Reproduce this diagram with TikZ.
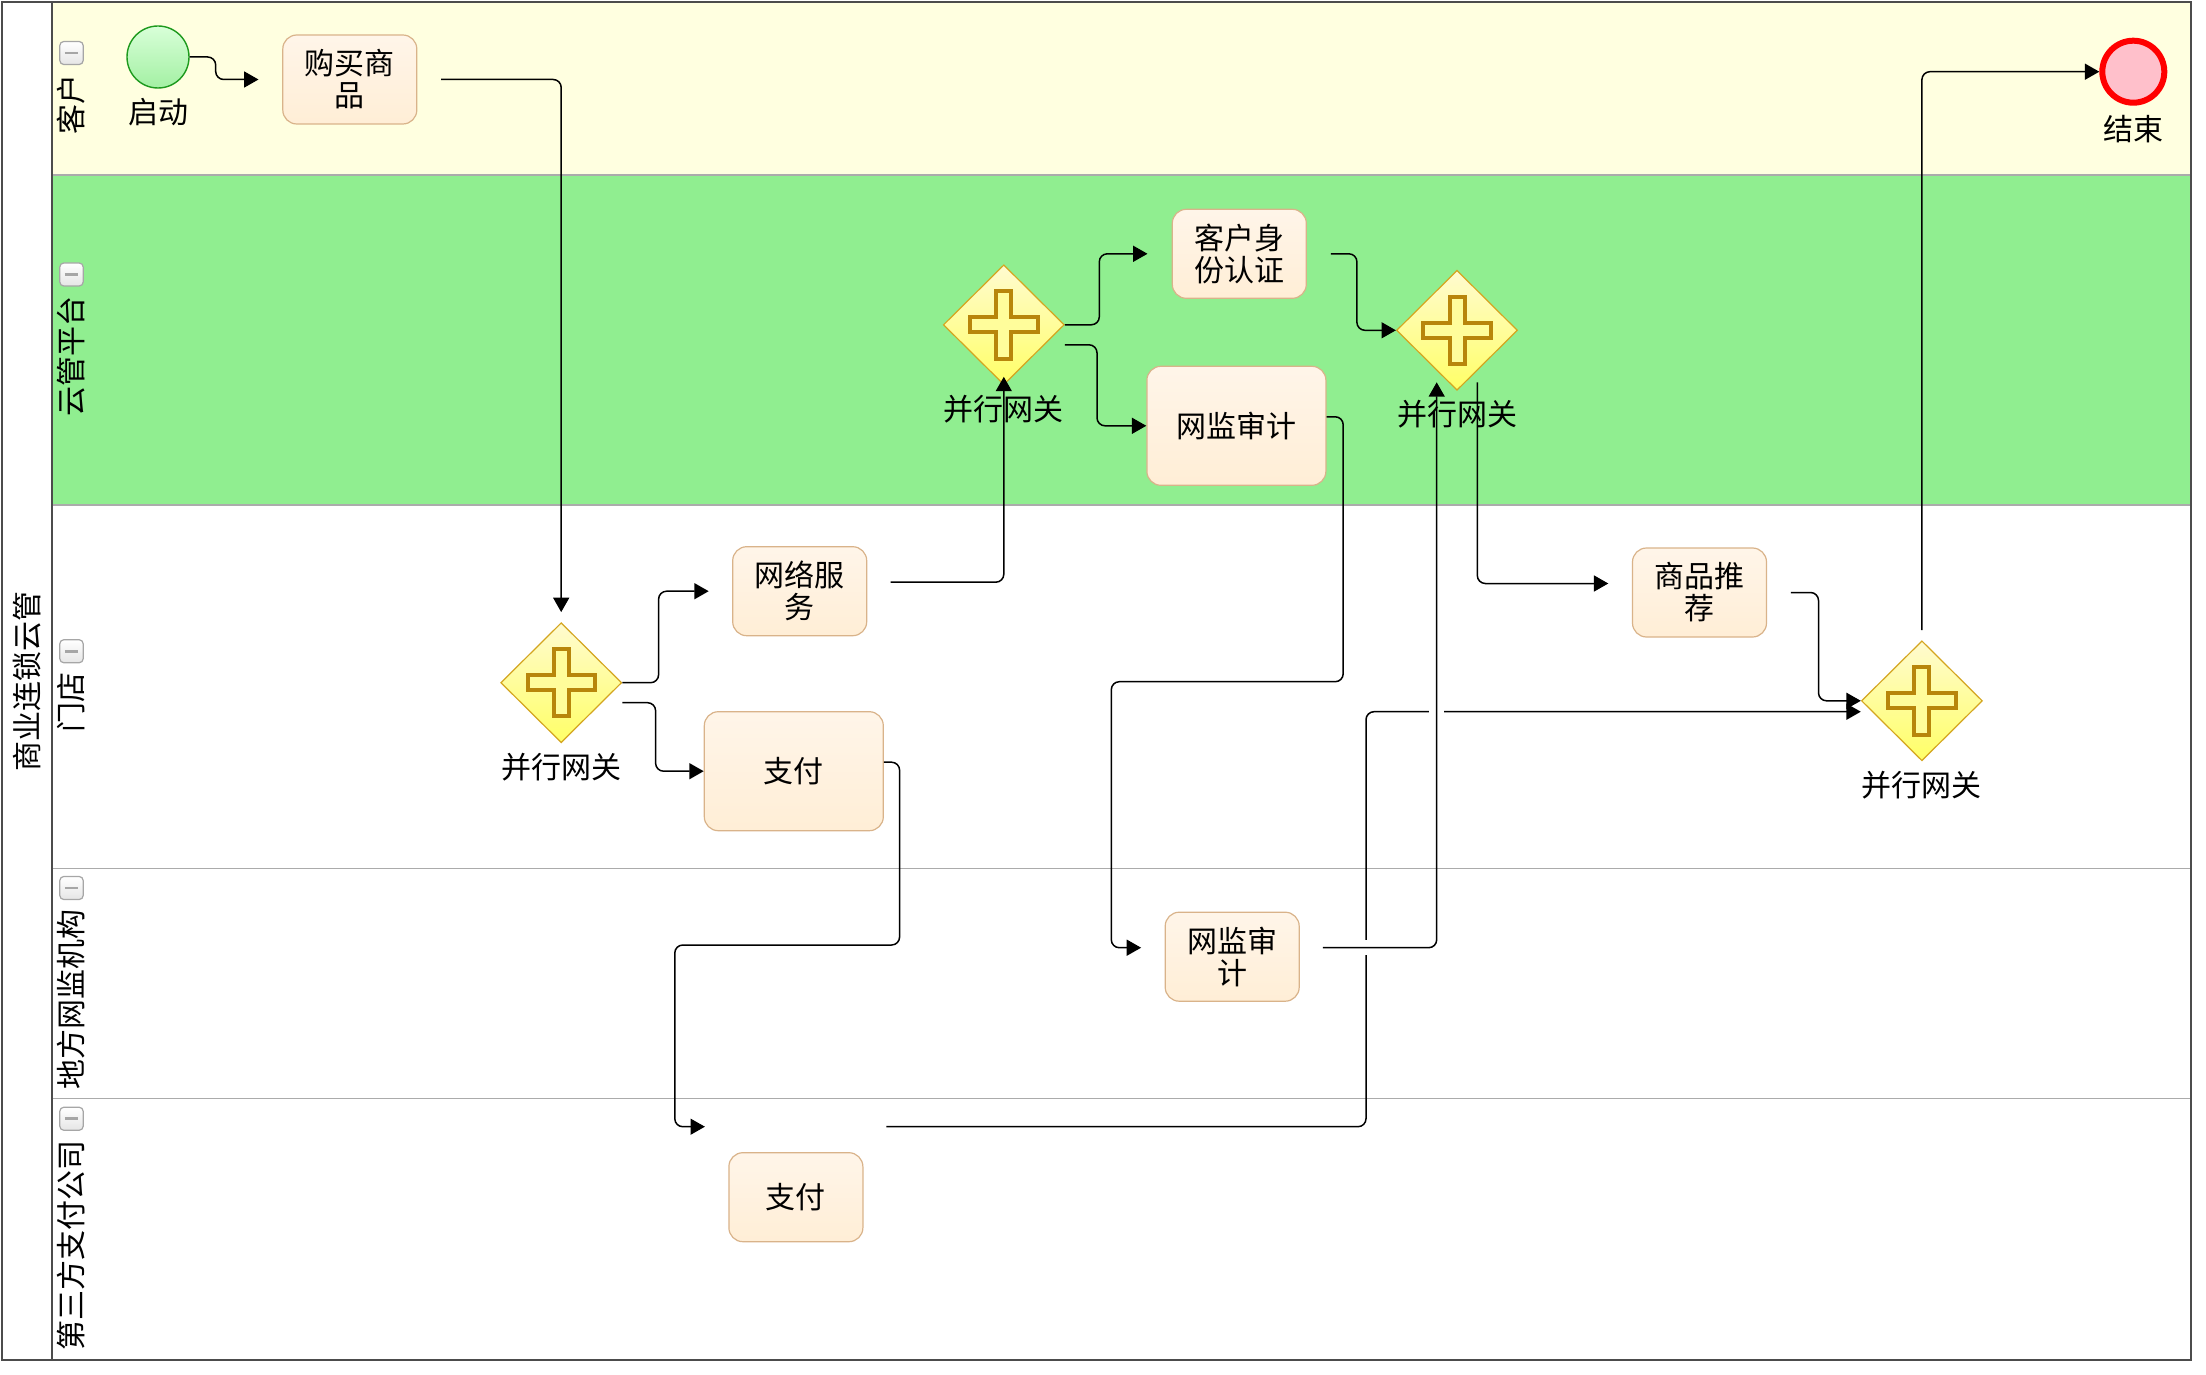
\documentclass[tikz,border=0pt]{standalone}
\usepackage{fontspec}
\setmainfont{Noto Sans CJK SC}
\usetikzlibrary{arrows.meta}
\usetikzlibrary{positioning}
\usetikzlibrary{calc}
\usetikzlibrary{shapes.geometric}

\definecolor{laneyellow}{HTML}{FFFFE0}
\definecolor{lanegreen}{HTML}{90EE90}
\definecolor{lanegray}{HTML}{ABABAB}
\definecolor{taskline}{HTML}{D9B38A}
\definecolor{tasktop}{HTML}{FFF5E9}
\definecolor{taskbot}{HTML}{FFEED6}
\definecolor{gwline}{HTML}{D4A520}
\definecolor{gwtop}{HTML}{FFFBD0}
\definecolor{gwbot}{HTML}{FFFF66}
\definecolor{plusline}{HTML}{B8860B}
\definecolor{starttop}{HTML}{D8FFD8}
\definecolor{startbot}{HTML}{A3F0A3}
\definecolor{startline}{HTML}{1E9A1E}
\definecolor{endfill}{HTML}{FFC0CB}

\begin{document}
\begin{tikzpicture}[x=0.5pt,y=-0.5pt,>={Triangle[length=7.2pt,width=8pt]},
  font=\fontsize{15pt}{16pt}\selectfont,
  flow/.style={->,draw=black,line width=0.75pt,rounded corners=4pt},
  task/.style={rectangle,rounded corners=7pt,draw=taskline,line width=0.6pt,
    top color=tasktop,bottom color=taskbot,align=center,inner sep=2pt,
    minimum width=67pt,minimum height=44.5pt},
  big task/.style={task,minimum width=89.5pt,minimum height=59.5pt},
  gateway/.style={diamond,draw=gwline,line width=0.6pt,top color=gwtop,bottom color=gwbot,
    minimum width=60.5pt,minimum height=60pt,inner sep=0pt,
    label={[label distance=4.5pt,inner sep=0pt]below:并行网关},
    path picture={\draw[plusline,line width=2pt,fill=gwtop!50!gwbot,
      shift={(path picture bounding box.center)}]
      (-3.75pt,16.85pt) -- (3.75pt,16.85pt) -- (3.75pt,3.75pt) -- (16.85pt,3.75pt)
      -- (16.85pt,-3.75pt) -- (3.75pt,-3.75pt) -- (3.75pt,-16.85pt) -- (-3.75pt,-16.85pt)
      -- (-3.75pt,-3.75pt) -- (-16.85pt,-3.75pt) -- (-16.85pt,3.75pt) -- (-3.75pt,3.75pt) -- cycle;}},
  start event/.style={circle,draw=startline,line width=0.7pt,top color=starttop,
    bottom color=startbot,minimum size=31pt,inner sep=0pt},
  end event/.style={circle,draw=red,line width=3pt,fill=endfill,minimum size=31pt,inner sep=0pt},
  event label/.style={label distance=4.5pt,inner sep=0pt},
  lane label/.style={rotate=90,inner sep=0pt},
  minus box/.style={rectangle,rounded corners=2pt,draw=gray!70,line width=0.6pt,
    top color=white,bottom color=gray!20,minimum width=11.7pt,minimum height=11.5pt,inner sep=0pt,
    path picture={\draw[line width=1.4pt,shift={(path picture bounding box.center)}]
      (-3.3pt,0pt) -- (3.3pt,0pt);}}]

  \useasboundingbox (0,0) rectangle (2206,1375);

  % pool and lanes
  \fill[laneyellow] (52.4,2) rectangle (2191,175);
  \fill[lanegreen] (52.4,175) rectangle (2191,505);
  \foreach \yl in {175,505,868.5,1098.5}
    \draw[lanegray,line width=0.8pt] (52.4,\yl) -- (2191,\yl);
  \draw[black!70,line width=1pt] (2,2) rectangle (2191,1360);
  \draw[black!70,line width=1pt] (52.4,2) -- (52.4,1360);
  \node[lane label] (pool) at (27,681) {商业连锁云管};
  \foreach \ya/\yb/\name [count=\i] in {2/175/客户,175/505/云管平台,505/868.5/门店,
      868.5/1098.5/地方网监机构,1098.5/1360/第三方支付公司}{
    \pgfmathsetmacro\ymid{(\ya+\yb)/2+16}
    \node[lane label] (lane\i) at (71.5,\ymid) {\name};
    \node[minus box] (fold\i) [above=4.5pt of lane\i.east] {};
  }

  % events, tasks, gateways
  \node[start event] (start) at (158,57) [label={[event label]below:启动}] {};
  \node[task] (buy) at (349.8,79.5) {购买商\\品};
  \node[gateway] (gw1) at (561.2,682.7) {};
  \node[task] (netsvc) at (799.7,591.2) {网络服\\务};
  \node[big task] (pay) at (793.8,771.2) {支付};
  \node[gateway] (gw2) at (1003.8,324.8) {};
  \node[task] (auth) at (1239.3,253.8) {客户身\\份认证};
  \node[big task] (audit) at (1236.4,425.8) {网监审计};
  \node[gateway] (gw3) at (1457,330.3) {};
  \node[task] (localaudit) at (1232.2,956.7) {网监审\\计};
  \node[task] (tppay) at (795.9,1197.2) {支付};
  \node[task] (recommend) at (1699.5,592.5) {商品推\\荐};
  \node[gateway] (gw4) at (1921.9,700.8) {};
  \node[end event] (finish) at (2133.3,71.7) [label={[event label]below:结束}] {};

  % sequence flows
  \draw[flow,shorten >=11.85pt] (start.east) -- ++(26,0) |- (buy.west);
  \draw[flow,shorten <=11.8pt,shorten >=5pt] (buy.east) -| (gw1.north);
  \draw[flow,shorten >=11.7pt] (gw1.east) -- ++(36.3,0) |- (netsvc.west);
  \draw[flow] ($(gw1.east)+(0,20)$) -- ++(33.3,0) |- (pay.west);
  \draw[flow,shorten <=11.65pt] ($(netsvc.east)+(0,-9)$) -| ($(gw2.center)+(0,52)$);
  \draw[flow,shorten >=12.1pt] (gw2.east) -- ++(34.4,0) |- (auth.west);
  \draw[flow] ($(gw2.east)+(0,20)$) -- ++(32.1,0) |- (audit.west);
  \draw[flow,shorten <=12pt] (auth.east) -- ++(50,0) |- (gw3.west);
  \draw[flow,shorten >=11.75pt] ($(audit.east)+(0,-9)$) -- ++(16.7,0)
    |- ($(localaudit.west)+(-53.3,-275)$) |- ($(localaudit.west)+(0,-9)$);
  \draw[flow] ($(pay.east)+(0,-9)$) -- ++(15.7,0)
    |- ($(tppay.west)+(-53.5,-252.2)$) |- ($(tppay.west)+(-23.4,-70.5)$);

  \coordinate (tpout) at ($(tppay.east)+(22.9,-70.5)$);
  \coordinate (tpbend) at ($(tpout)+(479.6,0)$);
  \coordinate (gw4in) at ($(gw4.west)+(0,10.9)$);
  \coordinate (localout) at ($(localaudit.east)+(0,-9)$);
  \coordinate (gw3in) at ($(gw3.center)+(-20.3,52)$);
  \coordinate (jumpA) at (tpbend |- localout);
  \coordinate (jumpB) at (gw3in |- gw4in);
  \draw[flow] (tpout) -- (tpbend) |- (gw4in);
  \draw[white,line width=3pt] ($(jumpA)+(0,-7.5)$) -- ($(jumpA)+(0,7.5)$);
  \draw[white,line width=3pt] ($(jumpB)+(-7.5,0)$) -- ($(jumpB)+(7.5,0)$);
  \draw[flow,shorten <=11.5pt] (localout) -| (gw3in);

  \draw[flow,shorten >=11.8pt] ($(gw3.center)+(20.3,52)$) |- ($(recommend.west)+(0,-9)$);
  \draw[flow,shorten <=11.85pt] (recommend.east) -- ++(51.4,0) |- (gw4.west);
  \draw[flow,shorten <=5pt] (gw4.north) |- (finish.west);
\end{tikzpicture}
\end{document}
